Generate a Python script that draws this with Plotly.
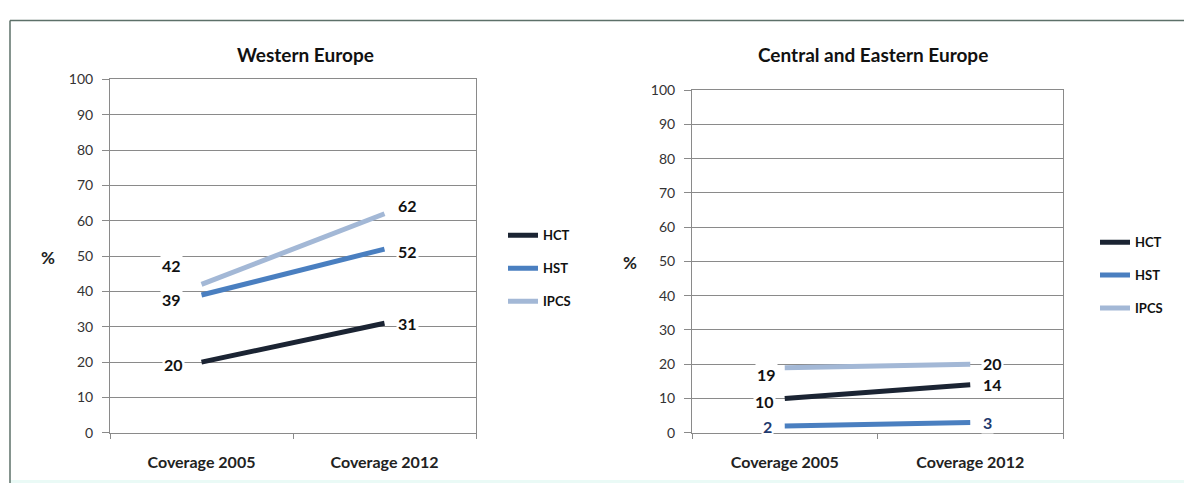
import plotly.graph_objects as go

# ---------------- data ----------------
categories = ["Coverage 2005", "Coverage 2012"]
series_names = ["HCT", "HST", "IPCS"]

west_hct = [20, 31]
west_hst = [39, 52]
west_ipcs = [42, 62]

east_hct = [10, 14]
east_hst = [2, 3]
east_ipcs = [19, 20]

y_ticks = [0, 10, 20, 30, 40, 50, 60, 70, 80, 90, 100]
titles = ["Western Europe", "Central and Eastern Europe"]

# ---------------- style ----------------
W, H = 1184, 491
FONT = "Lato"
colors = {"HCT": "#1b2433", "HST": "#4a7fc0", "IPCS": "#a3b8d6"}
grid = "#8a8a8a"

# label offsets (pixels) per panel / series / point
west_offsets = {"HCT": [(-28, -2), (23, 0)],
                "HST": [(-30, -4), (23, -2)],
                "IPCS": [(-30, 19), (23, 8)]}
east_offsets = {"HCT": [(-20, -3), (22, 0)],
                "HST": [(-17, -1), (17, 0)],
                "IPCS": [(-18, -7), (22, 1)]}
west_label_colors = {"HCT": "#111111", "HST": "#111111", "IPCS": "#111111"}
east_label_colors = {"HCT": "#111111", "HST": "#1f3a6e", "IPCS": "#111111"}


def px_x(p):
    return p / W


def px_y(p):
    return 1 - p / H


fig = go.Figure()

panels = [
    ("x", "y", "legend", {"HCT": west_hct, "HST": west_hst, "IPCS": west_ipcs}, west_offsets, west_label_colors),
    ("x2", "y2", "legend2", {"HCT": east_hct, "HST": east_hst, "IPCS": east_ipcs}, east_offsets, east_label_colors),
]

annotations = []
for xa, ya, leg, data, offs, lcols in panels:
    for name in series_names:
        fig.add_trace(go.Scatter(
            x=categories, y=data[name], name=name, mode="lines",
            line=dict(color=colors[name], width=5),
            xaxis=xa, yaxis=ya, legend=leg, legendgroup=leg + name,
            hoverinfo="skip",
        ))
        for i, (cat, val) in enumerate(zip(categories, data[name])):
            dx, dy = offs[name][i]
            annotations.append(dict(
                x=cat, y=val, xref=xa, yref=ya, text=str(val), showarrow=False,
                xanchor="center", yanchor="middle",
                xshift=dx, yshift=dy, bgcolor="white", borderpad=1,
                font=dict(family=FONT, size=16, color=lcols[name], weight="bold"),
            ))

# titles
title_font = dict(family=FONT, size=19, color="#111", weight="bold")
annotations.append(dict(x=px_x(305), y=px_y(47), xref="paper", yref="paper", text=titles[0],
                        xanchor="center", yanchor="middle", showarrow=False, font=title_font))
annotations.append(dict(x=px_x(873), y=px_y(47), xref="paper", yref="paper", text=titles[1],
                        xanchor="center", yanchor="middle", showarrow=False, font=title_font))
# % axis labels
pct_font = dict(family=FONT, size=17, color="#222", weight="bold")
annotations.append(dict(x=px_x(48), y=px_y(257), xref="paper", yref="paper", text="%",
                        xanchor="center", yanchor="middle", showarrow=False, font=pct_font))
annotations.append(dict(x=px_x(630), y=px_y(263), xref="paper", yref="paper", text="%",
                        xanchor="center", yanchor="middle", showarrow=False, font=pct_font))

xaxis_common = dict(type="category", range=[-0.5, 1.5], tickson="boundaries", ticks="outside", ticklen=5,
                    tickcolor=grid, showline=True, linecolor=grid, linewidth=1, mirror=True,
                    showgrid=False, zeroline=False, fixedrange=True, ticklabelstandoff=15,
                    tickfont=dict(family=FONT, size=16, color="#222", weight="bold"))
yaxis_common = dict(range=[0, 100], tickvals=y_ticks, ticks="outside", ticklen=7,
                    tickcolor=grid, showline=True, linecolor=grid, linewidth=1, mirror=True,
                    showgrid=True, gridcolor=grid, gridwidth=1, zeroline=False, fixedrange=True,
                    ticklabelstandoff=6,
                    tickfont=dict(family=FONT, size=14, color="#333"))

legend_common = dict(font=dict(family=FONT, size=13, color="#111", weight="bold"),
                     tracegroupgap=13, bgcolor="rgba(0,0,0,0)", xanchor="left", yanchor="top",
                     itemclick=False, itemdoubleclick=False)

fig.update_layout(
    width=W, height=H, margin=dict(l=0, r=0, t=0, b=0),
    paper_bgcolor="white", plot_bgcolor="white",
    showlegend=True,
    xaxis=dict(domain=[px_x(110), px_x(476)], anchor="y", **xaxis_common),
    yaxis=dict(domain=[px_y(439), px_y(73)], anchor="x", **yaxis_common),
    xaxis2=dict(domain=[px_x(692), px_x(1063)], anchor="y2", **xaxis_common),
    yaxis2=dict(domain=[px_y(439), px_y(84)], anchor="x2", **yaxis_common),
    legend=dict(x=px_x(503), y=px_y(219), **legend_common),
    legend2=dict(x=px_x(1095), y=px_y(226), **legend_common),
    annotations=annotations,
    shapes=[
        dict(type="line", xref="paper", yref="paper", x0=px_x(10), x1=1, y0=px_y(12), y1=px_y(12),
             line=dict(color="#5d7069", width=1.5)),
        dict(type="line", xref="paper", yref="paper", x0=px_x(10), x1=px_x(10), y0=px_y(12), y1=0,
             line=dict(color="#5d7069", width=1.5)),
        dict(type="rect", xref="paper", yref="paper", x0=px_x(10), x1=1, y0=0, y1=px_y(488),
             line=dict(width=0), fillcolor="#eafaf6", layer="below"),
    ],
)

fig.write_html("out.html")
